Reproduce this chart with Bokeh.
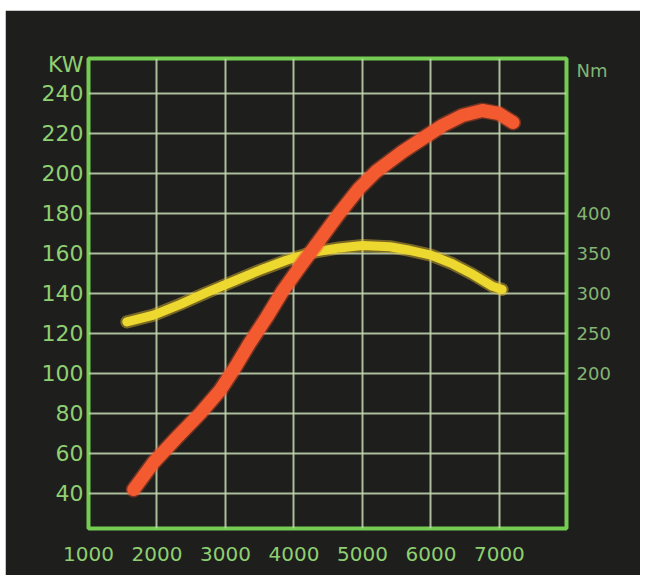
from bokeh.plotting import figure
from bokeh.models import Range1d, LinearAxis, FixedTicker
from bokeh.embed import file_html
from bokeh.resources import INLINE

# ---- data ----
rpm_power = [1660, 1950, 2290, 2630, 2920, 3140, 3350, 3600, 3840, 4080, 4370, 4660,
             4950, 5200, 5590, 5880, 6170, 6460, 6750, 6990, 7200]
power_kw = [42, 55.5, 68, 80, 91.5, 103, 115, 128, 141.5, 153, 166.5, 180,
            192.5, 201, 211, 217.5, 224, 229, 231.5, 230, 225.5]

rpm_torque = [1560, 1950, 2340, 2720, 3110, 3500, 3890, 4280, 4660, 5000, 5400, 5690,
              6000, 6320, 6610, 6900, 7040]
torque_nm = [264.5, 273, 286.5, 301, 315, 329, 341.5, 351.5, 357, 360, 358.5, 354,
             348, 337, 324, 309, 305]

rpm_ticks = [1000, 2000, 3000, 4000, 5000, 6000, 7000]
kw_ticks = [40, 60, 80, 100, 120, 140, 160, 180, 200, 220, 240]
nm_ticks = [200, 250, 300, 350, 400]
kw_unit = "KW"
nm_unit = "Nm"

BG = "#1e1f1c"
GREEN = "#8ecf72"
GREEN_DIM = "#82b474"

KW_MIN, KW_MAX = 22.5, 257.5
def kw_to_nm(v):
    return 2.5 * v - 50

p = figure(width=635, height=565, output_backend="svg", toolbar_location=None,
           x_range=Range1d(1000, 7980), y_range=Range1d(KW_MIN, KW_MAX),
           min_border_left=83, min_border_right=74, min_border_top=48, min_border_bottom=47)
p.margin = (10, 9, 0, 5)
p.extra_y_ranges = {"nm": Range1d(kw_to_nm(KW_MIN), kw_to_nm(KW_MAX))}

p.background_fill_color = BG
p.border_fill_color = BG
p.outline_line_color = "#74cc52"
p.outline_line_width = 4

# grid
p.xgrid.ticker = FixedTicker(ticks=rpm_ticks[1:])
p.ygrid.ticker = FixedTicker(ticks=kw_ticks)
for g in (p.xgrid, p.ygrid):
    g.grid_line_color = "#c6d8b2"
    g.grid_line_width = 2
    g.grid_line_alpha = 0.85

def style_axis(ax, color, size, standoff):
    ax.axis_line_color = None
    ax.major_tick_line_color = None
    ax.minor_tick_line_color = None
    ax.major_tick_out = 0
    ax.major_tick_in = 0
    ax.major_label_text_color = color
    ax.major_label_text_font = "DejaVu Sans"
    ax.major_label_text_font_size = size
    ax.major_label_standoff = standoff

# unit names sit at the top of each value axis
kw_unit_pos = 254.5
nm_unit_pos = kw_to_nm(251.5)

p.xaxis.ticker = FixedTicker(ticks=rpm_ticks)
p.yaxis.ticker = FixedTicker(ticks=kw_ticks + [kw_unit_pos])
p.yaxis.major_label_overrides = {kw_unit_pos: kw_unit}
style_axis(p.xaxis[0], GREEN, "20px", 18)
style_axis(p.yaxis[0], GREEN, "22px", 5)

right = LinearAxis(y_range_name="nm", ticker=FixedTicker(ticks=nm_ticks + [nm_unit_pos]))
right.major_label_overrides = {nm_unit_pos: nm_unit}
style_axis(right, GREEN_DIM, "18px", 10)
p.add_layout(right, "right")

# torque (yellow) with soft glow
p.line(rpm_torque, torque_nm, y_range_name="nm", line_color="#e8c030", line_width=13,
       line_alpha=0.45, line_cap="round", line_join="round")
p.line(rpm_torque, torque_nm, y_range_name="nm", line_color="#ecd82e", line_width=9,
       line_cap="round", line_join="round")

# power (red)
p.line(rpm_power, power_kw, line_color="#f0502a", line_width=16, line_alpha=0.4,
       line_cap="round", line_join="round")
p.line(rpm_power, power_kw, line_color="#f45a30", line_width=13,
       line_cap="round", line_join="round")

open("out.html", "w").write(file_html(p, INLINE))
